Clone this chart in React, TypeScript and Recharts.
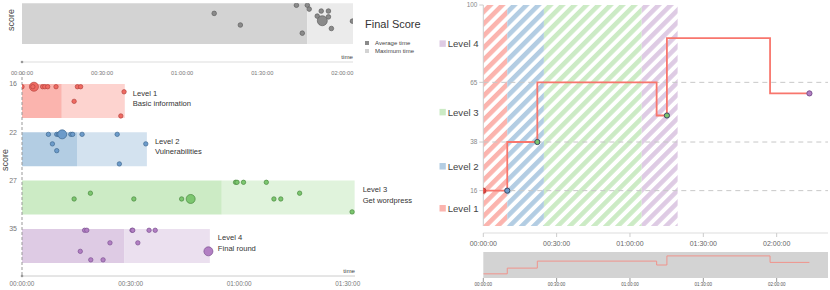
import React from "react";
import {
  ComposedChart,
  Line,
  LineChart,
  ReferenceArea,
  ReferenceDot,
  ReferenceLine,
  Scatter,
  ScatterChart,
  XAxis,
  YAxis,
} from "recharts";

// ---- data ----
const TIME_TICKS = [0, 30, 60, 90, 120];
const LEVEL_TIME_TICKS = [0, 30, 60, 90];

// final score panel: [minutes, score, big]
const FINAL_AVG_TIME = 106.9;
const FINAL_MAX_TIME = 124;
const FINAL_POINTS: [number, number, number][] = [
  [72, 79, 0], [81.8, 49, 0], [102.8, 100, 0], [106.9, 100, 0], [107.6, 90, 0],
  [112.1, 85, 0], [114.8, 85, 0], [110.6, 72, 0], [114.8, 70, 0], [112.5, 60, 1],
  [115.9, 40, 0], [105, 28, 0], [123.8, 59, 0],
];

const LEVEL_NAMES = ["Level 1", "Level 2", "Level 3", "Level 4"];
const LEVEL_TITLES = ["Basic information", "Vulnerabilities", "Get wordpress", "Final round"];
const LEVEL_SCORES = [16, 22, 27, 35];
const LEVEL_AVG = [11.0, 15.2, 55.2, 28.2];
const LEVEL_MAX = [28.4, 34.5, 91.9, 51.9];

// per level: [minutes, depth in band 0..1, big]
const L1_POINTS: [number, number, number][] = [
  [0, 0.08, 0], [3.3, 0.08, 1], [3.0, 0.08, 0], [5.7, 0.08, 0], [6.3, 0.08, 0], [7.1, 0.08, 0],
  [9.4, 0.08, 0], [15.3, 0.08, 0], [16.2, 0.08, 0], [28.2, 0.23, 0], [14.4, 0.51, 0], [27.3, 0.94, 0],
];
const L2_POINTS: [number, number, number][] = [
  [7.3, 0.06, 0], [9.6, 0.06, 0], [10.1, 0.06, 0], [11.1, 0.06, 1], [13.5, 0.06, 0], [14.0, 0.06, 0],
  [16.6, 0.06, 0], [26.3, 0.06, 0], [34.2, 0.34, 0], [8.4, 0.34, 0], [9.6, 0.54, 0], [26.9, 0.93, 0],
];
const L3_POINTS: [number, number, number][] = [
  [59.0, 0.05, 0], [59.4, 0.05, 0], [61.2, 0.05, 0], [67.5, 0.05, 0], [18.9, 0.37, 0], [76.7, 0.37, 0],
  [14.4, 0.54, 0], [30.9, 0.54, 0], [44.1, 0.54, 0], [46.6, 0.54, 1], [69.6, 0.54, 0], [71.5, 0.54, 0],
  [91.2, 0.92, 0],
];
const L4_POINTS: [number, number, number][] = [
  [17.3, 0.04, 0], [17.9, 0.04, 0], [30.4, 0.04, 0], [30.6, 0.04, 0], [35.1, 0.04, 0], [36.8, 0.04, 0],
  [24.3, 0.41, 0], [32.0, 0.41, 0], [16.1, 0.66, 0], [51.5, 0.66, 1], [19.0, 0.91, 0], [22.4, 0.91, 0],
];
const LEVEL_POINTS = [L1_POINTS, L2_POINTS, L3_POINTS, L4_POINTS];

// progress of one player
const PROGRESS_TIME = [0, 9.8, 22.1, 70.9, 75.1, 117.3, 133.4];
const PROGRESS_SCORE = [16, 38, 65, 50, 85, 60, 60];
const CHECK_TIME = [0, 9.8, 22.1, 75.1, 133.4];
const CHECK_SCORE = [16, 16, 38, 50, 60];
const CHECK_LEVEL = [0, 1, 2, 2, 3];
const ZONE_END = [9.8, 24.8, 64.8, 79.5];
const THRESHOLDS = [16, 38, 65];
const SCORE_TICKS = [16, 38, 65, 100];

// ---- styles ----
const PASTEL = ["#fbb4ae", "#b3cde3", "#ccebc5", "#decbe4"];
const PASTEL_LIGHT = ["#fdd3cf", "#d3e2ef", "#e0f3dc", "#ebe0ef"];
const DOT_FILL = ["#ef6a62", "#6c9bca", "#7cc66f", "#b27fc3"];
const DOT_STROKE = ["#b5453f", "#3f6891", "#4b8a40", "#7b5290"];

// lane geometry for the level panel (y axis units)
const LANE_TOP = 12;
const LANE_GAP = 48.3;
const BAND = 34;

const hms = (m: number) => {
  const s = Math.round(m * 60);
  const h = Math.floor(s / 3600);
  const mm = Math.floor((s % 3600) / 60);
  return [h, mm, s % 60].map((v) => String(v).padStart(2, "0")).join(":");
};

const dotShape = (fill: string, stroke: string, r = 2.3, rBig = 4.6) => (p: any) => (
  <circle cx={p.cx} cy={p.cy} r={p.payload.big ? rBig : r} fill={fill} stroke={stroke} strokeWidth={0.7} />
);

const scoreLabel = (x: number, y: number) => () => (
  <text x={x} y={y} transform={`rotate(-90 ${x} ${y})`} textAnchor="middle" dominantBaseline="central" fontSize={9} fill="#444">
    score
  </text>
);

const timeLabel = (props: any) => {
  const vb = props.viewBox;
  return (
    <text x={vb.x + vb.width} y={vb.y - 3} textAnchor="end" fontSize={6.2} fill="#444">
      time
    </text>
  );
};

function FinalScorePanel() {
  const data = FINAL_POINTS.map(([t, s, big]) => ({ t, s, big }));
  return (
    <div style={{ position: "absolute", left: 0, top: 0 }}>
      <ScatterChart width={425} height={80} margin={{ top: 3.3, right: 72, bottom: 0, left: 0 }}>
        <XAxis type="number" dataKey="t" domain={[0, FINAL_MAX_TIME]} ticks={TIME_TICKS} tickFormatter={hms}
          tick={{ fontSize: 5.7, fill: "#777" }} tickLine={false} tickSize={0} tickMargin={9}
          axisLine={{ stroke: "#ddd" }} height={18} allowDataOverflow label={timeLabel} />
        <YAxis type="number" dataKey="s" domain={[-46.4, 105]} ticks={[100]} width={22}
          tick={{ fontSize: 5.5, fill: "#777" }} tickLine={false} tickSize={0} tickMargin={2}
          axisLine={false} allowDataOverflow label={scoreLabel(11, 20)} />
        <ReferenceArea x1={0} x2={FINAL_AVG_TIME} y1={0} y2={105} fill="#d3d3d3" fillOpacity={1} stroke="none" />
        <ReferenceArea x1={FINAL_AVG_TIME} x2={FINAL_MAX_TIME} y1={0} y2={105} fill="#ebebeb" fillOpacity={1} stroke="none" />
        <ReferenceDot x={0} y={-46.4} r={1.3} fill="#999" stroke="none" ifOverflow="visible" />
        <Scatter data={data} shape={dotShape("#8a8a8a", "#606060", 2.3, 5)} isAnimationActive={false} />
      </ScatterChart>
    </div>
  );
}

function FinalLegend() {
  const item = (c: string, t: string) => (
    <div style={{ display: "flex", alignItems: "center", height: 8 }}>
      <span style={{ width: 4, height: 4, background: c, marginRight: 6, display: "inline-block" }} />
      <span style={{ fontSize: 6, color: "#444", whiteSpace: "nowrap" }}>{t}</span>
    </div>
  );
  return (
    <div style={{ position: "absolute", left: 365, top: 18 }}>
      <div style={{ fontSize: 11, color: "#333", marginBottom: 9, whiteSpace: "nowrap" }}>Final Score</div>
      {item("#8a8a8a", "Average time")}
      {item("#d3d3d3", "Maximum time")}
    </div>
  );
}

function LevelsPanel() {
  const laneTops = LEVEL_NAMES.map((_, i) => LANE_TOP + i * LANE_GAP);
  const levelLabel = (i: number) => (props: any) => {
    const vb = props.viewBox;
    const x = vb.x + vb.width + 8;
    const cy = vb.y + vb.height / 2;
    return (
      <g>
        <text x={x} y={cy - 5.5} fontSize={7.6} fill="#333">{LEVEL_NAMES[i]}</text>
        <text x={x} y={cy + 5} fontSize={7.6} fill="#333">{LEVEL_TITLES[i]}</text>
      </g>
    );
  };
  return (
    <div style={{ position: "absolute", left: 0, top: 60 }}>
      <ScatterChart width={420} height={230} margin={{ top: 12, right: 65, bottom: 0, left: 0 }}>
        <XAxis type="number" dataKey="t" domain={[0, 92]} ticks={LEVEL_TIME_TICKS} tickFormatter={hms}
          tick={{ fontSize: 6.4, fill: "#777" }} tickLine={false} tickSize={0} tickMargin={5}
          axisLine={{ stroke: "#ccc" }} height={14} allowDataOverflow label={timeLabel} />
        <YAxis type="number" dataKey="y" domain={[0, 204]} reversed ticks={laneTops}
          tickFormatter={(v: number) => String(LEVEL_SCORES[laneTops.findIndex((l) => Math.abs(l - v) < 0.5)] ?? "")}
          width={22} tick={{ fontSize: 7, fill: "#777" }} tickLine={false} tickSize={0} tickMargin={5}
          axisLine={{ stroke: "#999", strokeDasharray: "3 2" }} allowDataOverflow label={scoreLabel(5, 100)} />
        {LEVEL_NAMES.flatMap((n, i) => [
          <ReferenceArea key={n + "a"} x1={0} x2={LEVEL_AVG[i]} y1={laneTops[i]} y2={laneTops[i] + BAND}
            fill={PASTEL[i]} fillOpacity={1} stroke="none" />,
          <ReferenceArea key={n + "m"} x1={LEVEL_AVG[i]} x2={LEVEL_MAX[i]} y1={laneTops[i]} y2={laneTops[i] + BAND}
            fill={PASTEL_LIGHT[i]} fillOpacity={1} stroke="none" label={levelLabel(i)} />,
        ])}
        <ReferenceDot x={0} y={204} r={1.3} fill="#999" stroke="none" ifOverflow="visible" />
        {LEVEL_POINTS.map((pts, i) => (
          <Scatter key={i}
            data={pts.map(([t, d, big]) => ({ t, y: laneTops[i] + d * BAND, big }))}
            shape={dotShape(DOT_FILL[i], DOT_STROKE[i], 2.2, 4.5)} isAnimationActive={false} />
        ))}
      </ScatterChart>
    </div>
  );
}

const progressData = PROGRESS_TIME.map((t, i) => ({ t, s: PROGRESS_SCORE[i] }));
const checkData = CHECK_TIME.map((t, i) => ({ t, s: CHECK_SCORE[i], lv: CHECK_LEVEL[i], i }));

function ProgressChart() {
  // legend entries sit halfway between the level thresholds
  const bounds = [0, ...THRESHOLDS, 100];
  const mids = LEVEL_NAMES.map((_, i) => (bounds[i] + bounds[i + 1]) / 2);
  const legendLabel = (i: number) => (props: any) => {
    const vb = props.viewBox;
    const cx = vb.x + vb.width / 2;
    const cy = vb.y + vb.height / 2;
    return (
      <g>
        <rect x={cx - 43.8} y={cy - 3.3} width={6.3} height={6.5} fill={PASTEL[i]} />
        <text x={cx - 35.6} y={cy} dominantBaseline="central" fontSize={9.6} fill="#444">{LEVEL_NAMES[i]}</text>
      </g>
    );
  };
  const checkShape = (p: any) => {
    const d = p.payload;
    const edge = d.i === 0 || d.i === CHECK_TIME.length - 1;
    return (
      <circle cx={p.cx} cy={p.cy} r={2.6} fill={d.i === 0 ? "#e8403a" : DOT_FILL[d.lv]}
        stroke={edge ? DOT_STROKE[d.lv] : "#3c4a66"} strokeWidth={1} />
    );
  };
  return (
    <div style={{ position: "absolute", left: 420, top: 0 }}>
      <ComposedChart width={410} height={250} data={progressData} margin={{ top: 5, right: 2, bottom: 0, left: 0 }}>
        <defs>
          {PASTEL.map((c, i) => (
            <pattern key={i} id={`hatch${i}`} width={8.5} height={8.5} patternUnits="userSpaceOnUse" patternTransform="rotate(45)">
              <rect width={4.6} height={8.5} fill={c} />
            </pattern>
          ))}
        </defs>
        <XAxis type="number" dataKey="t" domain={[0, 141]} ticks={TIME_TICKS} tickFormatter={hms}
          tick={{ fontSize: 7, fill: "#666" }} tickLine={{ stroke: "#ccc" }} tickSize={4} tickMargin={4}
          axisLine={{ stroke: "#ddd" }} height={17} allowDataOverflow />
        <YAxis type="number" dataKey="s" domain={[-3.17, 100]} ticks={SCORE_TICKS} width={63.3}
          tick={{ fontSize: 6.4, fill: "#888" }} tickLine={{ stroke: "#ccc" }} tickSize={4} tickMargin={2}
          axisLine={false} allowDataOverflow />
        {ZONE_END.map((end, i) => (
          <ReferenceArea key={i} x1={i === 0 ? 0 : ZONE_END[i - 1]} x2={end} y1={0} y2={100}
            fill={`url(#hatch${i})`} fillOpacity={1} stroke="none" />
        ))}
        <ReferenceLine segment={[{ x: 0, y: 0 }, { x: 0, y: 100 }]} stroke="#ccc" />
        {THRESHOLDS.map((v) => (
          <ReferenceLine key={v} y={v} stroke="#c8c8c8" strokeDasharray="5 4" />
        ))}
        {mids.map((m, i) => (
          <ReferenceDot key={i} x={0} y={m} r={0} fill="none" stroke="none" label={legendLabel(i)} />
        ))}
        <Line type="stepAfter" dataKey="s" stroke="#f8766d" strokeWidth={1.8} dot={false} isAnimationActive={false} />
        <Scatter data={checkData} dataKey="s" shape={checkShape} isAnimationActive={false} />
      </ComposedChart>
    </div>
  );
}

function ProgressBrush() {
  return (
    <div style={{ position: "absolute", left: 470, top: 252 }}>
      <LineChart width={360} height={38} data={progressData} margin={{ top: 0, right: 2, bottom: 0, left: 13.3 }}>
        <XAxis type="number" dataKey="t" domain={[0, 141]} ticks={TIME_TICKS} tickFormatter={hms}
          tick={{ fontSize: 4.5, fill: "#555" }} tickLine={{ stroke: "#999" }} tickSize={4} tickMargin={1}
          axisLine={false} height={12} allowDataOverflow />
        <YAxis hide domain={[0, 100]} />
        <ReferenceArea x1={0} x2={141} y1={0} y2={100} fill="#d3d3d3" fillOpacity={1} stroke="none" />
        <Line type="stepAfter" dataKey="s" stroke="#f0938b" strokeWidth={1} dot={false} isAnimationActive={false} />
      </LineChart>
    </div>
  );
}

export default function App() {
  return (
    <div
      style={{
        position: "absolute",
        left: 0,
        top: 0,
        width: 830,
        height: 290,
        overflow: "hidden",
        background: "#fff",
        fontFamily: '"Liberation Sans", Arial, sans-serif',
      }}
    >
      <FinalScorePanel />
      <FinalLegend />
      <LevelsPanel />
      <ProgressChart />
      <ProgressBrush />
    </div>
  );
}
